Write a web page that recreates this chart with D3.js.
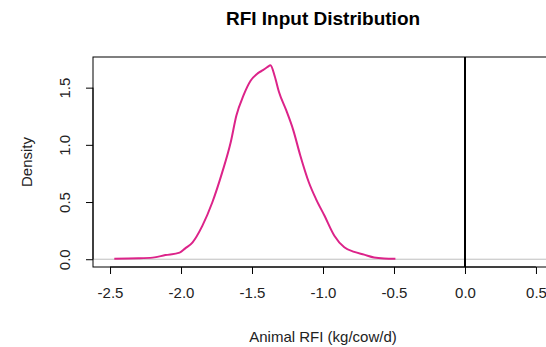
<!DOCTYPE html>
<html>
<head>
<meta charset="utf-8">
<script src="https://cdn.jsdelivr.net/npm/d3@7"></script>
<style>
  body { margin: 0; background: #fff; }
  svg { font-family: "Liberation Sans", Arial, sans-serif; }
</style>
</head>
<body>
<svg id="chart" width="546" height="347"></svg>
<script>
// DATA //
const rfiX = [-2.47, -2.30, -2.20, -2.11, -2.01, -1.97, -1.92, -1.85, -1.78, -1.71, -1.65, -1.61,
              -1.56, -1.51, -1.46, -1.42, -1.39, -1.37, -1.34, -1.31, -1.26, -1.21, -1.16, -1.10,
              -1.05, -0.99, -0.92, -0.85, -0.78, -0.71, -0.64, -0.57, -0.49]
const density = [0.005, 0.008, 0.014, 0.036, 0.058, 0.095, 0.146, 0.292, 0.496, 0.759, 1.022, 1.256,
                 1.432, 1.560, 1.625, 1.655, 1.681, 1.696, 1.600, 1.462, 1.305, 1.131, 0.907, 0.673,
                 0.528, 0.382, 0.206, 0.104, 0.064, 0.040, 0.015, 0.007, 0.005]
const xTicks = [-2.5, -2.0, -1.5, -1.0, -0.5, 0.0, 0.5]
const yTicks = [0.0, 0.5, 1.0, 1.5]
const xLim = [-2.5, 0.5]
const yLim = [0, 1.70]

// LAYOUT //
const plotL = 93, plotR = 553, plotT = 57, plotB = 267
const fs = 15

const svg = d3.select('#chart')

// R style 4% padding on both axes
const xPad = (xLim[1] - xLim[0]) * 0.04
const yPad = (yLim[1] - yLim[0]) * 0.04
const x = d3.scaleLinear().domain([xLim[0] - xPad, xLim[1] + xPad]).range([plotL, plotR])
const y = d3.scaleLinear().domain([yLim[0] - yPad, yLim[1] + yPad]).range([plotB, plotT])

// title
svg.append('text')
  .attr('x', (plotL + plotR) / 2)
  .attr('y', 25)
  .attr('text-anchor', 'middle')
  .attr('font-size', 19)
  .attr('font-weight', 'bold')
  .attr('fill', '#000')
  .text('RFI Input Distribution')

// zero line
svg.append('line')
  .attr('x1', plotL).attr('x2', plotR)
  .attr('y1', y(0)).attr('y2', y(0))
  .attr('stroke', '#bebebe')
  .attr('stroke-width', 1)

// density curve
const line = d3.line()
  .x((d, i) => x(rfiX[i]))
  .y((d) => y(d))
  .curve(d3.curveMonotoneX)

svg.append('path')
  .datum(density)
  .attr('d', line)
  .attr('fill', 'none')
  .attr('stroke', '#DC2389')
  .attr('stroke-width', 2)
  .attr('stroke-linejoin', 'round')

// vertical line at 0
svg.append('line')
  .attr('x1', x(0)).attr('x2', x(0))
  .attr('y1', plotT).attr('y2', plotB)
  .attr('stroke', '#000')
  .attr('stroke-width', 2)

// box
svg.append('rect')
  .attr('x', plotL).attr('y', plotT)
  .attr('width', plotR - plotL).attr('height', plotB - plotT)
  .attr('fill', 'none')
  .attr('stroke', '#000')
  .attr('stroke-width', 1)

// x axis
const xAxis = svg.append('g')
  .attr('transform', `translate(0,${plotB})`)
  .call(d3.axisBottom(x).tickValues(xTicks).tickFormat(d3.format('.1f')).tickSize(7).tickPadding(13))
xAxis.select('.domain').attr('d', `M${x(xTicks[0])},0H${x(xTicks[xTicks.length - 1])}`).attr('stroke', '#000')
xAxis.selectAll('.tick line').attr('stroke', '#000')
xAxis.selectAll('.tick text')
  .attr('font-size', fs)
  .attr('fill', '#222')
  .text((d) => d3.format('.1f')(d).replace('−', '-'))

// y axis
const yAxis = svg.append('g')
  .attr('transform', `translate(${plotL},0)`)
  .call(d3.axisLeft(y).tickValues(yTicks).tickFormat(d3.format('.1f')).tickSize(7))
yAxis.select('.domain').attr('d', `M0,${y(yTicks[0])}V${y(yTicks[yTicks.length - 1])}`).attr('stroke', '#000')
yAxis.selectAll('.tick line').attr('stroke', '#000')
yAxis.selectAll('.tick text')
  .attr('font-size', fs)
  .attr('fill', '#222')
  .attr('x', 0).attr('dy', 0)
  .attr('text-anchor', 'middle')
  .attr('transform', 'translate(-23,0) rotate(-90)')

// axis titles
svg.append('text')
  .attr('x', (plotL + plotR) / 2)
  .attr('y', 342)
  .attr('text-anchor', 'middle')
  .attr('font-size', fs)
  .attr('fill', '#222')
  .text('Animal RFI (kg/cow/d)')

svg.append('text')
  .attr('transform', `translate(32,${(plotT + plotB) / 2}) rotate(-90)`)
  .attr('text-anchor', 'middle')
  .attr('font-size', fs)
  .attr('fill', '#222')
  .text('Density')
</script>
</body>
</html>
